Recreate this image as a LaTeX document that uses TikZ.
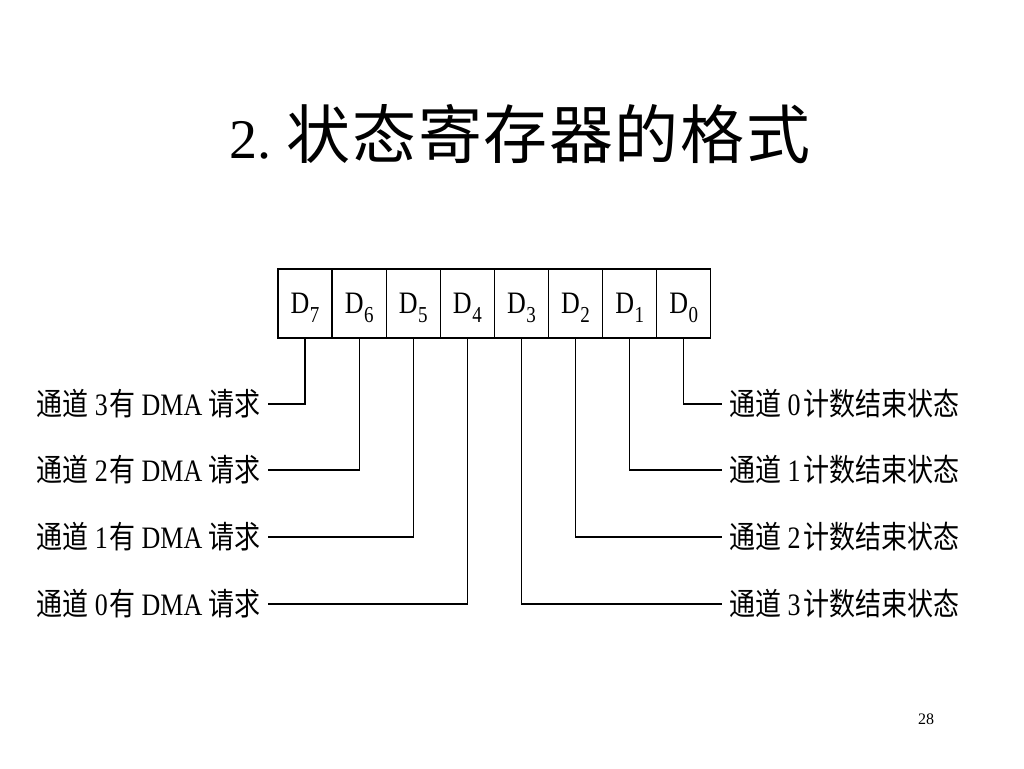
\documentclass[tikz,border=0pt]{standalone}
\usepackage{fontspec}
\setmainfont{Liberation Serif}
\newfontfamily\cjk{Noto Sans CJK SC}
\newfontfamily\cjktitle[LetterSpace=2.5]{Noto Sans CJK SC}
\newcommand{\tall}[1]{\scalebox{1}[1.2]{#1}}
\newcommand{\sub}[1]{\raisebox{-0.28em}[0pt][0pt]{\fontsize{19}{19}\selectfont #1}}
\begin{document}
\begin{tikzpicture}[x=1pt,y=-1pt,
  cell/.style={draw, line width=1.3pt, minimum width=54.1pt, minimum height=69pt, inner sep=0pt, font=\fontsize{26}{26}\selectfont},
  lbl/.style={inner ysep=0pt, inner xsep=7pt, font=\fontsize{26}{30}\selectfont},
  wire/.style={line width=1.3pt}]
\useasboundingbox[fill=white] (0,0) rectangle (1024,768);
% title
\node[anchor=west, inner sep=0pt] (title) at (229,134)
  {\fontsize{56}{60}\selectfont 2.\hspace{0.28em}{\cjktitle\fontsize{64}{70}\selectfont 状态寄存器的格式}};
% cells
\foreach \b [count=\k from 0] in {7,6,5,4,3,2,1,0}{
  \node[cell] (d\b) at ({278+54.1*\k+27.05},303.5) {\tall{D\kern0.02em\sub{\b}}};
}
% left labels
\node[lbl, anchor=east] (l3) at (268,404) {\tall{{\cjk 通道} 3\kern0.05em{\cjk 有} DMA {\cjk 请求}}};
\node[lbl, anchor=east] (l2) at (268,470) {\tall{{\cjk 通道} 2\kern0.05em{\cjk 有} DMA {\cjk 请求}}};
\node[lbl, anchor=east] (l1) at (268,537) {\tall{{\cjk 通道} 1\kern0.05em{\cjk 有} DMA {\cjk 请求}}};
\node[lbl, anchor=east] (l0) at (268,604) {\tall{{\cjk 通道} 0\kern0.05em{\cjk 有} DMA {\cjk 请求}}};
% right labels
\node[lbl, anchor=west] (r0) at (722,404) {\tall{{\cjk 通道} 0\kern0.1em{\cjk 计数结束状态}}};
\node[lbl, anchor=west] (r1) at (722,470) {\tall{{\cjk 通道} 1\kern0.1em{\cjk 计数结束状态}}};
\node[lbl, anchor=west] (r2) at (722,537) {\tall{{\cjk 通道} 2\kern0.1em{\cjk 计数结束状态}}};
\node[lbl, anchor=west] (r3) at (722,604) {\tall{{\cjk 通道} 3\kern0.1em{\cjk 计数结束状态}}};
% connectors
\draw[wire] (d7.south) |- (l3.east);
\draw[wire] (d6.south) |- (l2.east);
\draw[wire] (d5.south) |- (l1.east);
\draw[wire] (d4.south) |- (l0.east);
\draw[wire] (d0.south) |- (r0.west);
\draw[wire] (d1.south) |- (r1.west);
\draw[wire] (d2.south) |- (r2.west);
\draw[wire] (d3.south) |- (r3.west);
% page number
\node[inner sep=0pt, font=\fontsize{16}{16}\selectfont] (page) at (926,719) {28};
\end{tikzpicture}
\end{document}
